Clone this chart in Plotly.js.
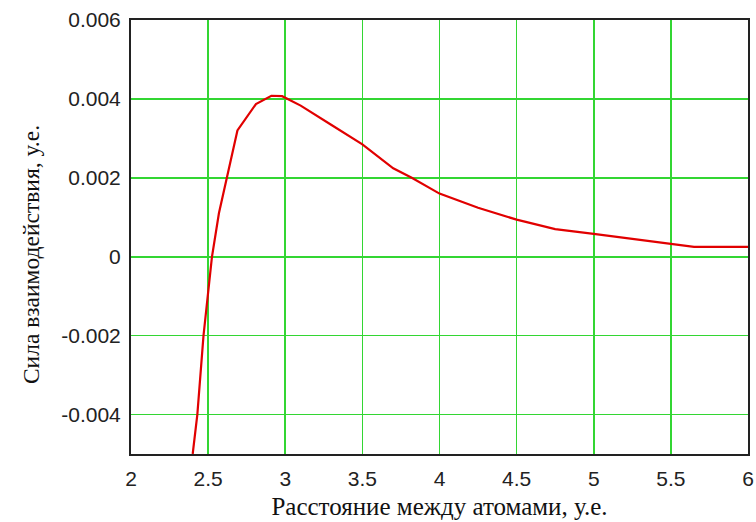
<!DOCTYPE html>
<html>
<head>
<meta charset="utf-8">
<script src="https://cdn.plot.ly/plotly-3.0.1.min.js"></script>
<style>html,body{margin:0;padding:0;background:#fff;}#chart{width:756px;height:522px;}</style>
</head>
<body>
<div id="chart"></div>
<script>
// Distance between atoms (arb. units)
const distance = [2.40, 2.43, 2.47, 2.525, 2.57, 2.62, 2.69, 2.81, 2.91, 2.98, 3.1, 3.3, 3.5, 3.7, 3.82, 4.0, 4.25, 4.5, 4.75, 5.0, 5.25, 5.5, 5.65, 6.0];
// Interaction force (arb. units)
const force = [-0.005, -0.004, -0.002, 0, 0.0011, 0.002, 0.0032, 0.00387, 0.00408, 0.00407, 0.00383, 0.00334, 0.00285, 0.00224, 0.002, 0.0016, 0.00124, 0.00094, 0.0007, 0.00058, 0.00045, 0.00032, 0.00025, 0.00025];

const xTickVals = [2, 2.5, 3, 3.5, 4, 4.5, 5, 5.5, 6];
const xTickText = ['2', '2.5', '3', '3.5', '4', '4.5', '5', '5.5', '6'];
const yTickVals = [0.006, 0.004, 0.002, 0, -0.002, -0.004];
const yTickText = ['0.006', '0.004', '0.002', '0', '-0.002', '-0.004'];

const xTitle = 'Расстояние между атомами, у.е.';
const yTitle = 'Сила взаимодействия, у.е.';

const tickFont = {family: 'Liberation Sans, Arial, sans-serif', size: 21, color: '#222'};
const xTitleFont = {family: 'Liberation Serif, Times New Roman, serif', size: 25, color: '#111'};
const yTitleFont = {family: 'Liberation Serif, Times New Roman, serif', size: 23.5, color: '#111'};

const trace = {
  x: distance, y: force, type: 'scatter', mode: 'lines',
  line: {color: 'rgb(225,0,0)', width: 2.2},
  hoverinfo: 'x+y'
};

const layout = {
  width: 756, height: 522,
  margin: {l: 131, r: 8, t: 20, b: 68},
  paper_bgcolor: '#fff', plot_bgcolor: '#fff',
  showlegend: false,
  xaxis: {
    range: [2, 6], tickvals: xTickVals, ticktext: xTickText,
    showgrid: true, gridcolor: '#33d633', gridwidth: 1.6,
    zeroline: false, showline: true, linecolor: '#222', linewidth: 2, mirror: true,
    ticks: '', ticklen: 0, tickfont: tickFont, ticklabelstandoff: 5,
    title: {text: xTitle, font: xTitleFont, standoff: 8}
  },
  yaxis: {
    range: [-0.005, 0.006], tickvals: yTickVals, ticktext: yTickText,
    showgrid: true, gridcolor: '#33d633', gridwidth: 1.6,
    zeroline: false, showline: true, linecolor: '#222', linewidth: 2, mirror: true,
    ticks: '', ticklen: 0, tickfont: tickFont, ticklabelstandoff: 4
  },
  annotations: [{
    text: yTitle, font: yTitleFont, textangle: -90, showarrow: false,
    xref: 'paper', yref: 'paper', x: -0.162, y: 0.4585,
    xanchor: 'center', yanchor: 'middle'
  }]
};

Plotly.newPlot('chart', [trace], layout, {displayModeBar: false, staticPlot: true});
</script>
</body>
</html>
